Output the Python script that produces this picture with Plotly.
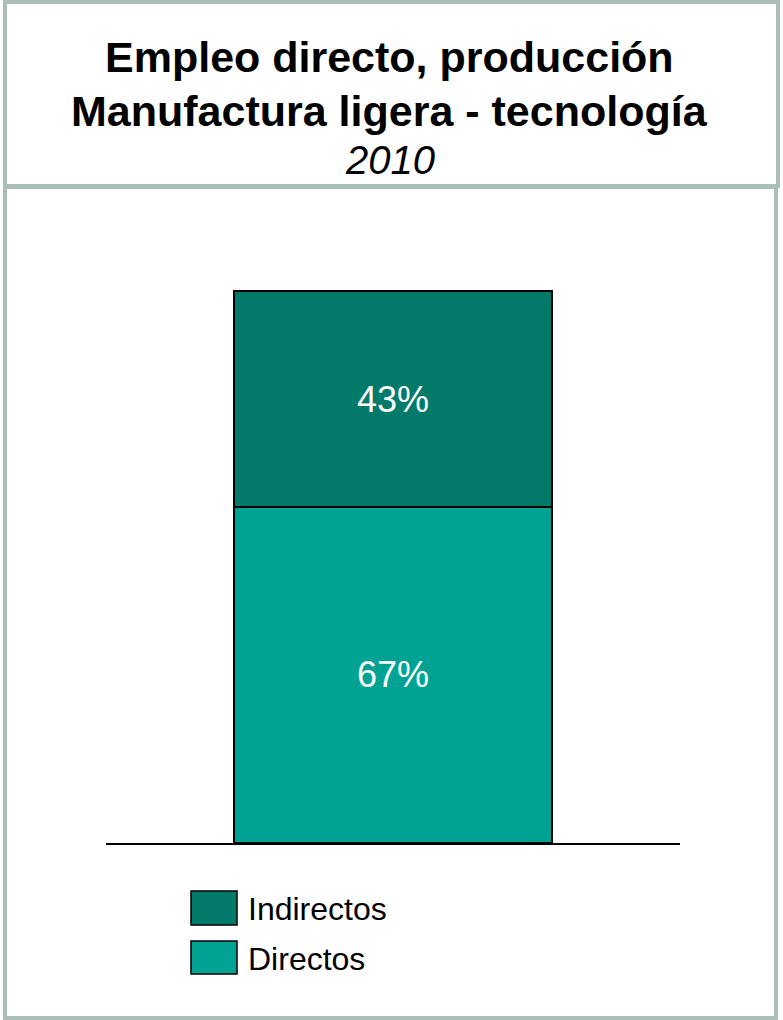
import plotly.graph_objects as go

# Data
categories = ["2010"]
series_names = ["Directos", "Indirectos"]
directos = [67]
indirectos = [43]
series_values = [directos, indirectos]
series_colors = ["#00a393", "#027a69"]

W, H = 783, 1020
FONT = "Liberation Sans, Arial, sans-serif"
FRAME = "#aabfb8"

def px_x(x):
    return x / W

def px_y(y):
    return 1 - y / H

fig = go.Figure()
for name, vals, col in zip(series_names, series_values, series_colors):
    fig.add_trace(go.Bar(
        x=categories, y=vals, name=name,
        marker=dict(color=col, line=dict(color="#000000", width=1.5)),
        width=0.554,
        text=[f"{v}%" for v in vals],
        textposition="inside", insidetextanchor="middle",
        textfont=dict(family=FONT, size=36, color="#ffffff"),
        showlegend=False,
    ))

shapes = [
    # title box and chart box frames
    dict(type="rect", xref="paper", yref="paper",
         x0=px_x(5), x1=px_x(778), y0=px_y(2), y1=px_y(186),
         line=dict(color=FRAME, width=4), fillcolor="rgba(0,0,0,0)"),
    dict(type="rect", xref="paper", yref="paper",
         x0=px_x(5), x1=px_x(776), y0=px_y(187), y1=px_y(1018),
         line=dict(color=FRAME, width=4), fillcolor="rgba(0,0,0,0)"),
]

annotations = [
    dict(text="<b>Empleo directo, producción</b>", x=px_x(389), y=px_y(57),
         xref="paper", yref="paper", showarrow=False, yanchor="middle",
         font=dict(family=FONT, size=43, color="#000000")),
    dict(text="<b>Manufactura ligera - tecnología</b>", x=px_x(389), y=px_y(111),
         xref="paper", yref="paper", showarrow=False, yanchor="middle",
         font=dict(family=FONT, size=43, color="#000000")),
    dict(text="<i>2010</i>", x=px_x(390), y=px_y(160),
         xref="paper", yref="paper", showarrow=False, yanchor="middle",
         font=dict(family=FONT, size=40, color="#000000")),
]

# Legend: top entry is the stacked-on-top series
legend_rows = [(891, 925), (941, 974)]
for (y0, y1), name, col in zip(legend_rows, series_names[::-1], series_colors[::-1]):
    shapes.append(dict(type="rect", xref="paper", yref="paper",
                       x0=px_x(191), x1=px_x(237), y0=px_y(y1), y1=px_y(y0),
                       fillcolor=col, line=dict(color="#000000", width=1.5)))
    annotations.append(dict(text=name, x=px_x(246), y=px_y((y0 + y1) / 2 + 1),
                            xref="paper", yref="paper", showarrow=False,
                            xanchor="left", yanchor="middle",
                            font=dict(family=FONT, size=32, color="#000000")))

fig.update_layout(
    width=W, height=H,
    margin=dict(l=0, r=0, t=0, b=0),
    paper_bgcolor="#ffffff", plot_bgcolor="#ffffff",
    barmode="stack",
    xaxis=dict(domain=[px_x(106), px_x(680)], range=[-0.5, 0.5],
               showticklabels=False, ticks="", showgrid=False, zeroline=False,
               showline=True, linecolor="#000000", linewidth=2, fixedrange=True),
    yaxis=dict(domain=[px_y(843), px_y(241)], range=[0, 120],
               showticklabels=False, ticks="", showgrid=False, zeroline=False,
               showline=False, fixedrange=True),
    shapes=shapes,
    annotations=annotations,
    uniformtext=dict(mode=None),
)

fig.write_html("out.html")
